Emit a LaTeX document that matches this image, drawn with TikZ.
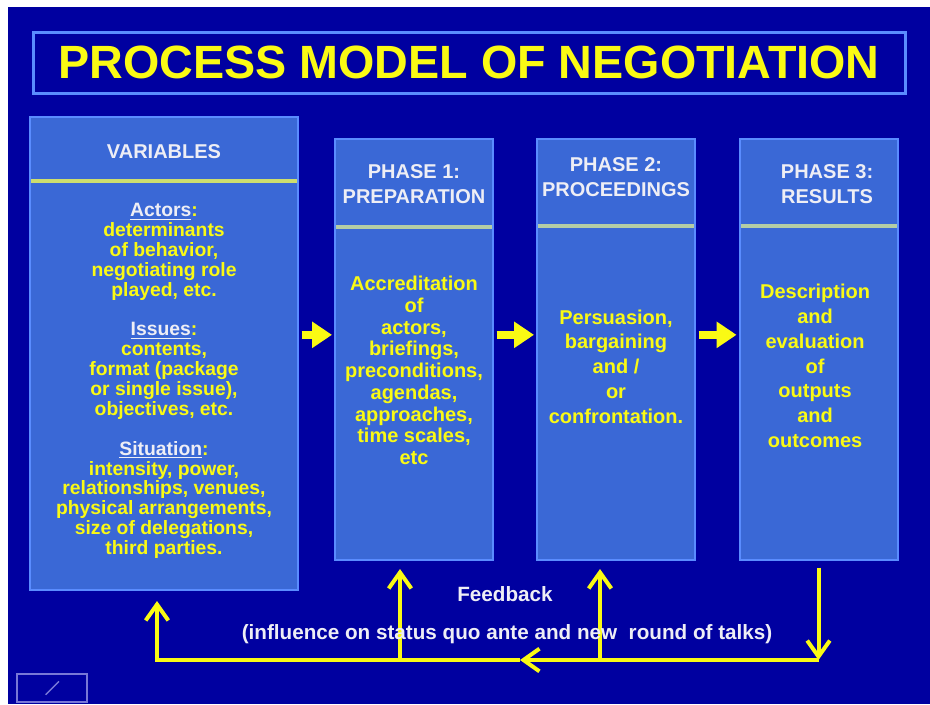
\documentclass[tikz,border=0pt]{standalone}
\usepackage{fontspec}
\setmainfont{Liberation Sans}
\usetikzlibrary{arrows.meta}
\definecolor{bgblue}{RGB}{0,0,160}
\definecolor{boxblue}{RGB}{58,104,214}
\definecolor{edgeblue}{RGB}{90,140,255}
\definecolor{txtyellow}{RGB}{250,250,20}
\definecolor{headwhite}{RGB}{238,238,245}
\definecolor{sepgreen}{RGB}{205,222,110}
\definecolor{sepgray}{RGB}{180,205,165}
\definecolor{navgray}{RGB}{120,120,215}
\tikzstyle{titlebox}=[rectangle,draw=edgeblue,line width=2.25pt,minimum width=654pt,minimum height=45.75pt,text=txtyellow,font=\fontsize{35}{38}\selectfont\bfseries]
\tikzstyle{varbox}=[rectangle,draw=edgeblue,fill=boxblue,line width=1.5pt,minimum width=201pt,minimum height=354.75pt]
\tikzstyle{phase}=[rectangle,draw=edgeblue,fill=boxblue,line width=1.5pt,minimum width=118.5pt,minimum height=315.75pt]
\tikzstyle{head}=[text=headwhite,align=center,font=\fontsize{15}{18.75}\selectfont\bfseries]
\tikzstyle{body}=[text=txtyellow,align=center,font=\fontsize{15}{16.3}\selectfont\bfseries]
\tikzstyle{sep}=[line width=3pt,shorten <=1.5pt,shorten >=1.5pt]
\tikzstyle{arrow}=[draw=txtyellow,line width=6pt,-{Triangle[length=15pt,width=19pt]},shorten <=2pt,shorten >=1.5pt]
\tikzstyle{fb}=[draw=txtyellow,line width=3pt]
\tikzstyle{fbarrow}=[fb,-{Straight Barb[length=12pt,width=17pt]}]
\tikzstyle{fbtext}=[text=headwhite,font=\fontsize{15.5}{18}\selectfont\bfseries]
\newcommand{\hd}[1]{\textcolor{headwhite}{\underline{#1}}:}
\begin{document}
\begin{tikzpicture}[x=0.75pt,y=-0.75pt,node distance=151.5pt]
		
		\useasboundingbox (0,0) rectangle (930,704);
		\fill[white] (0,0) rectangle (930,704);
		\fill[bgblue] (8,7) rectangle (930,704);
		
		\node (title) [titlebox] at (469,62.5) {PROCESS MODEL OF NEGOTIATION};
		
		\node (vars) [varbox] at (164,353.5) {};
		\node (p1) [phase, right of=vars, xshift=36pt, yshift=3pt] {};
		\node (p2) [phase, right of=p1] {};
		\node (p3) [phase, right of=p2, xshift=0.4pt] {};
		
		\node (varshead) [head] at ([yshift=-27pt]vars.north) {VARIABLES};
		\node (p1head) [head] at ([yshift=-34.9pt]p1.north) {PHASE 1:\\PREPARATION};
		\node (p2head) [head] at ([yshift=-29.6pt]p2.north) {PHASE 2:\\PROCEEDINGS};
		\node (p3head) [head] at ([xshift=6.4pt,yshift=-34.5pt]p3.north) {PHASE 3:\\RESULTS};
		
		\draw[sep,sepgreen] ([yshift=-48.75pt]vars.north west) -- ([yshift=-48.75pt]vars.north east);
		\draw[sep,sepgray] ([yshift=-66.5pt]p1.north west) -- ([yshift=-66.5pt]p1.north east);
		\draw[sep,sepgray] ([yshift=-66pt]p2.north west) -- ([yshift=-66pt]p2.north east);
		\draw[sep,sepgray] ([yshift=-66pt]p3.north west) -- ([yshift=-66pt]p3.north east);
		
		\node (varsbody) [body, font=\fontsize{14.5}{14.9}\selectfont\bfseries] at ([yshift=-198.75pt]vars.north) {\hd{Actors}\\determinants\\of behavior,\\negotiating role\\played, etc.\\[14.9pt]
			\hd{Issues}\\contents,\\format (package\\or single issue),\\objectives, etc.\\[14.9pt]
			\hd{Situation}\\intensity, power,\\relationships, venues,\\physical arrangements,\\size of delegations,\\third parties.};
		\node (p1body) [body] at ([yshift=-174.4pt]p1.north) {Accreditation\\of\\actors,\\briefings,\\preconditions,\\agendas,\\approaches,\\time scales,\\etc};
		\node (p2body) [body, font=\fontsize{15}{18.6}\selectfont\bfseries] at ([yshift=-171.4pt]p2.north) {Persuasion,\\bargaining\\and /\\or\\confrontation.};
		\node (p3body) [body, font=\fontsize{15}{18.6}\selectfont\bfseries] at ([xshift=-2.6pt,yshift=-171pt]p3.north) {Description\\and\\evaluation\\of\\outputs\\and\\outcomes};
		
		\draw[arrow] ([yshift=11pt]vars.east |- p1.west) -- ([yshift=11pt]p1.west);
		\draw[arrow] ([yshift=11pt]p1.east) -- ([yshift=11pt]p2.west);
		\draw[arrow] ([yshift=11pt]p2.east) -- ([yshift=11pt]p3.west);
		
		% feedback loop
		\coordinate (fbR) at (818.5,660);
		\coordinate (fbM) at (520,660);
		\coordinate (fbL) at (157,660);
		\coordinate (fb1) at (400,660);
		\coordinate (fb2) at (600,660);
		
		\draw[fbarrow, shorten <=5pt] (p3.south -| fbR) -- (fbR);
		\draw[fbarrow] (fbR) -- (fbM);
		\draw[fbarrow, shorten >=7.5pt] (fbM) -- (fbL) -- (fbL |- vars.south);
		\draw[fbarrow, shorten >=6pt] (fb1) -- (fb1 |- p1.south);
		\draw[fbarrow, shorten >=6pt] (fb2) -- (fb2 |- p2.south);
		
		\node (fbtitle) [fbtext] at (505,594) {Feedback};
		\node (fbnote) [fbtext] at (507,634) {(influence on status quo ante and new\ \ round of talks)};
		
		\node (navbtn) [draw=navgray, line width=1pt, minimum width=52.5pt, minimum height=21pt] at (52,688) {};
		\draw[navgray, line width=1pt] ([xshift=22pt,yshift=-16pt]navbtn.north west) -- ([xshift=32pt,yshift=-6pt]navbtn.north west);
		
		\end{tikzpicture}
\end{document}
